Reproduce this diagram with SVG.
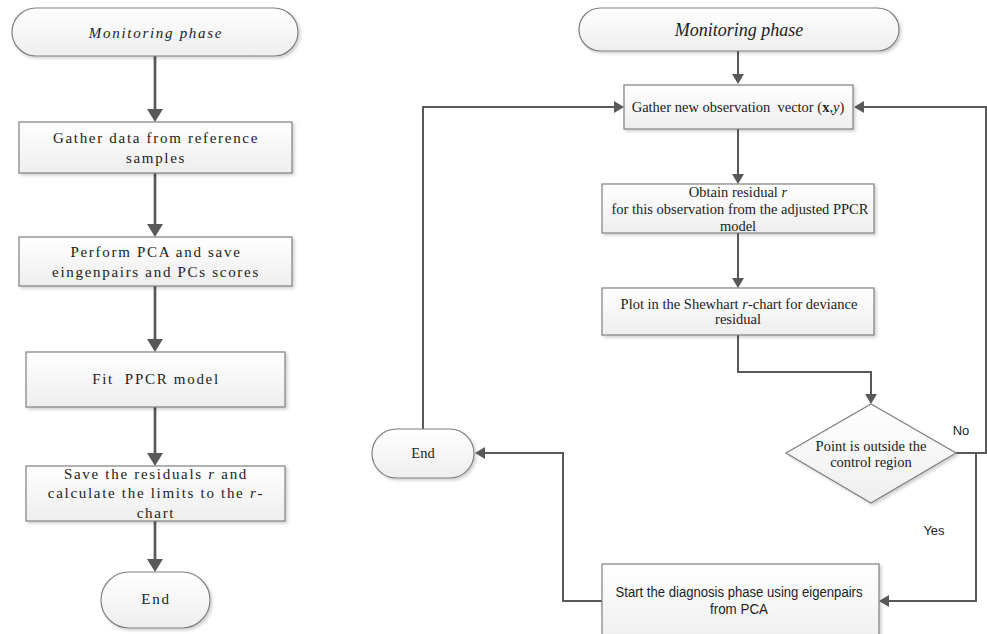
<svg xmlns="http://www.w3.org/2000/svg" width="987" height="634" viewBox="0 0 987 634">
<style>
.shape{fill:url(#g);stroke:#7f7f7f;stroke-width:1.2;filter:url(#sh)}
.lt{font-family:"Liberation Serif","Times New Roman",serif;font-size:15px;letter-spacing:1.7px;fill:#222;text-anchor:middle}
.rt{font-family:"Liberation Serif","Times New Roman",serif;font-size:14.5px;fill:#222;text-anchor:middle}
.st{font-family:"Liberation Sans",Arial,sans-serif;font-size:14px;fill:#222;text-anchor:middle}
.it{font-style:italic}
.cl{fill:none;stroke:#595959;stroke-width:2.7;marker-end:url(#ab)}
.cr{fill:none;stroke:#595959;stroke-width:2;marker-end:url(#as)}
</style>
<defs>
<linearGradient id="g" x1="0" y1="0" x2="0" y2="1">
<stop offset="0" stop-color="#ffffff"/>
<stop offset="1" stop-color="#eeeeee"/>
</linearGradient>
<filter id="sh" x="-10%" y="-10%" width="130%" height="140%">
<feDropShadow dx="2" dy="2" stdDeviation="1.5" flood-color="#000" flood-opacity="0.18"/>
</filter>
<marker id="ab" markerUnits="userSpaceOnUse" markerWidth="13" markerHeight="16" viewBox="0 0 13 16" refX="10" refY="8" orient="auto">
<path d="M0,0 L13,8 L0,16 z" fill="#595959"/>
</marker>
<marker id="as" markerUnits="userSpaceOnUse" markerWidth="10" markerHeight="12" viewBox="0 0 10 12" refX="7" refY="6" orient="auto">
<path d="M0,0 L10,6 L0,12 z" fill="#595959"/>
</marker>
</defs>

<g id="connectors">
<path class="cl" d="M155,56 V119"/>
<path class="cl" d="M155,173 V234"/>
<path class="cl" d="M155,286 V349"/>
<path class="cl" d="M155,407 V463"/>
<path class="cl" d="M155,521 V569"/>
<path class="cr" d="M738,51 V81"/>
<path class="cr" d="M738,129 V181"/>
<path class="cr" d="M738,233 V285"/>
<path class="cr" d="M738,335 V372 H871 V401"/>
<path class="cr" d="M956,453 H986 V107 H857"/>
<path class="cr" d="M976,453 V601 H882"/>
<path class="cr" d="M602,601 H563 V453 H478"/>
<path class="cr" d="M423,429 V107 H621"/>
</g>

<g id="left-start">
<rect class="shape" x="12" y="8" width="286" height="48" rx="24"/>
<text class="lt it" x="156" y="38">Monitoring phase</text>
</g>
<g id="left-gather">
<rect class="shape" x="19" y="122" width="273" height="51"/>
<text class="lt" x="156" y="143">Gather data from reference</text>
<text class="lt" x="156" y="163">samples</text>
</g>
<g id="left-pca">
<rect class="shape" x="19" y="237" width="273" height="49"/>
<text class="lt" x="156" y="257">Perform PCA and save</text>
<text class="lt" x="156" y="277">eingenpairs and PCs scores</text>
</g>
<g id="left-fit">
<rect class="shape" x="26" y="352" width="259" height="55"/>
<text class="lt" x="156" y="384" xml:space="preserve">Fit  PPCR model</text>
</g>
<g id="left-save">
<rect class="shape" x="26" y="466" width="259" height="55"/>
<text class="lt" x="156" y="479">Save the residuals <tspan class="it">r</tspan> and</text>
<text class="lt" x="156" y="498">calculate the limits to the <tspan class="it">r</tspan>-</text>
<text class="lt" x="156" y="518">chart</text>
</g>
<g id="left-end">
<rect class="shape" x="101" y="572" width="109" height="56" rx="28"/>
<text class="lt" x="156" y="604">End</text>
</g>

<g id="right-start">
<rect class="shape" x="579" y="8" width="320" height="43" rx="21.5"/>
<text class="rt it" x="739" y="36" style="font-size:18px">Monitoring phase</text>
</g>
<g id="right-gather">
<rect class="shape" x="624" y="85" width="229" height="44"/>
<text class="rt" x="738" y="112" xml:space="preserve">Gather new observation  vector (<tspan font-weight="bold">x</tspan>,<tspan class="it">y</tspan>)</text>
</g>
<g id="right-obtain">
<rect class="shape" x="602" y="184" width="272" height="49"/>
<text class="rt" x="738" y="197">Obtain residual <tspan class="it">r</tspan></text>
<text class="rt" x="740" y="214">for this observation from the adjusted PPCR</text>
<text class="rt" x="738" y="231">model</text>
</g>
<g id="right-plot">
<rect class="shape" x="602" y="288" width="272" height="47"/>
<text class="rt" x="739" y="309">Plot in the Shewhart <tspan class="it">r</tspan>-chart for deviance</text>
<text class="rt" x="738" y="324">residual</text>
</g>
<g id="right-decision">
<polygon class="shape" points="871,404 956,453 871,503 786,453"/>
<text class="rt" x="871" y="451">Point is outside the</text>
<text class="rt" x="871" y="467">control region</text>
</g>
<g id="right-end">
<rect class="shape" x="372" y="429" width="102" height="49" rx="24.5"/>
<text class="rt" x="423" y="458">End</text>
</g>
<g id="right-diagnosis">
<rect class="shape" x="602" y="564" width="277" height="80"/>
<text class="st" x="739" y="597" textLength="247" lengthAdjust="spacingAndGlyphs">Start the diagnosis phase using eigenpairs</text>
<text class="st" x="739" y="614" textLength="58" lengthAdjust="spacingAndGlyphs">from PCA</text>
</g>
<g id="labels">
<text class="st" x="961" y="435" style="font-size:13px">No</text>
<text class="st" x="934" y="535" style="font-size:13px">Yes</text>
</g>
</svg>
